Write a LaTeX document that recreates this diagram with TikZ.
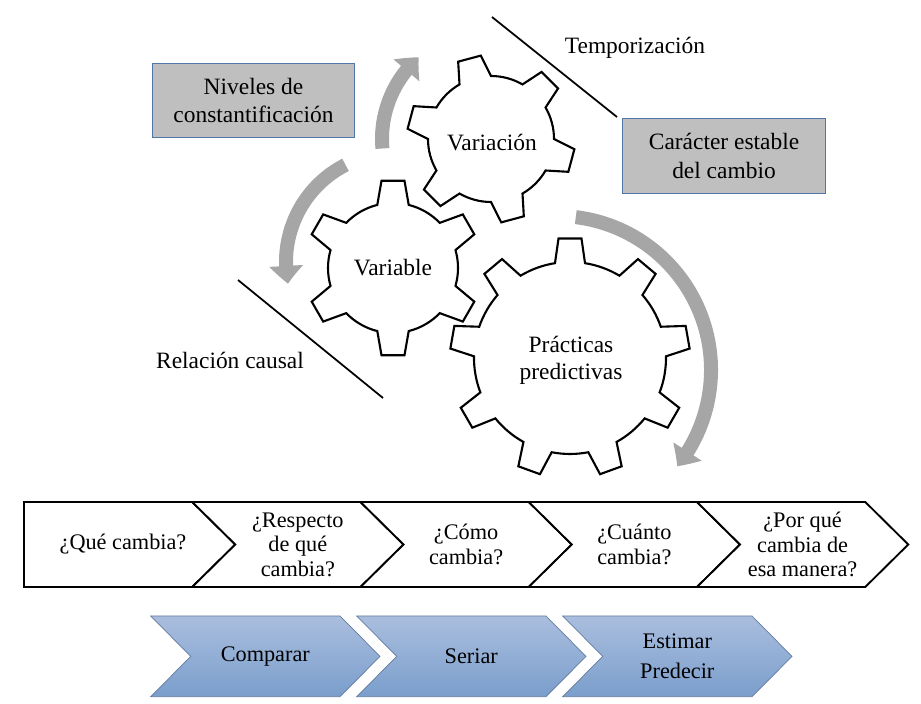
\documentclass[tikz,border=0pt]{standalone}
\usepackage{fontspec}
\setmainfont{Liberation Serif}
\usetikzlibrary{arrows.meta,bending}
\definecolor{boxgray}{RGB}{191,191,191}
\definecolor{boxblue}{RGB}{79,119,170}
\definecolor{arrowgray}{RGB}{166,166,166}
\definecolor{acttop}{RGB}{170,190,222}
\definecolor{actbot}{RGB}{122,158,204}
\definecolor{actborder}{RGB}{100,124,160}

\begin{document}
\begin{tikzpicture}[x=0.03cm, y=0.03cm,
  every node/.style={font=\fontsize{20}{24}\selectfont, align=center, inner sep=1pt},
  gear/.style={line width=1.8pt, line join=miter, fill=white},
  cyclearrow/.style={line width=0.42cm, draw=arrowgray, -{Triangle[width=0.98cm, length=0.54cm, bend]}},
  sepline/.style={line width=1.5pt},
  graybox/.style={draw=boxblue, line width=1pt, fill=boxgray, minimum width=6.08cm, minimum height=2.24cm},
  qbox/.style={draw, line width=1.6pt, line join=miter, fill=white},
  qtext/.style={font=\fontsize{19}{21}\selectfont},
  actbox/.style={draw=actborder, line width=0.6pt, top color=acttop, bottom color=actbot}]
\useasboundingbox (0,0) rectangle (921,704);

% gears: centre, outer/inner radius, teeth, first tooth, half widths
\foreach \gx/\gy/\rout/\rin/\nt/\off/\aout/\ain in {393/436/88/65/6/90/7.5/14, 491/565/84/63/6/105/8/15, 570/346/120/96/9/90/5.5/9}
{
  \pgfmathsetmacro{\gstep}{360/\nt}
  \draw[gear] ({\gx+\rin*cos(\off-\ain)},{\gy+\rin*sin(\off-\ain)})
    \foreach \kk [evaluate=\kk as \ang using \off+(\kk-1)*\gstep] in {1,...,\nt} {
      -- ({\gx+\rout*cos(\ang-\aout)},{\gy+\rout*sin(\ang-\aout)})
      -- ({\gx+\rout*cos(\ang+\aout)},{\gy+\rout*sin(\ang+\aout)})
      -- ({\gx+\rin*cos(\ang+\ain)},{\gy+\rin*sin(\ang+\ain)})
      arc[start angle=\ang+\ain, end angle=\ang+\gstep-\ain, radius=\rin]
    } -- cycle;
}
\node (variable) at (393,436) {Variable};
\node (variacion) at (492,561) {Variación};
\node[font=\fontsize{20}{23}\selectfont] (practicas) at (571,344) {Prácticas\\predictivas};

% turning arrows
\coordinate (cvar) at (491,565);
\coordinate (cvbl) at (395,442);
\coordinate (cpra) at (557,334);
\draw[cyclearrow] ([shift={(185:109)}]cvar) arc[start angle=185, end angle=131.5, radius=109];
\draw[cyclearrow] ([shift={(117:109)}]cvbl) arc[start angle=117, end angle=191.5, radius=109];
\draw[cyclearrow] ([shift={(83:154)}]cpra) arc[start angle=83, end angle=-38.7, radius=154];

% labels and boxes
\node[graybox] (niveles) at (253.5,603.5) {Niveles de\\constantificación};
\node[graybox] (caracter) at (724,548) {Carácter estable\\del cambio};
\node (tempo) at (635,656) {Temporización};
\node (causal) at (230,344) {Relación causal};
\coordinate (t1) at (492,687);
\coordinate (t2) at (617,587);
\coordinate (c1) at (238,424);
\coordinate (c2) at (383,306);
\draw[sepline] (t1) -- (t2);
\draw[sepline] (c1) -- (c2);

% questions
\foreach \i/\tx in {0/{¿Qué cambia?}, 1/{¿Respecto\\de qué\\cambia?}, 2/{¿Cómo\\cambia?}, 3/{¿Cuánto\\cambia?}, 4/{¿Por qué\\cambia de\\esa manera?}}
{
  \pgfmathsetmacro{\xl}{24+168.25*\i}
  \pgfmathsetmacro{\xr}{\xl+168.25}
  \pgfmathsetmacro{\dn}{\i==0 ? 0 : 43}
  \draw[qbox] (\xl,202) -- (\xr,202) -- (\xr+43,159.5) -- (\xr,117) -- (\xl,117) -- (\xl+\dn,159.5) -- cycle;
  \node[qtext] (q\i) at ({\i==0 ? 123 : \xl+105.6},159.5) {\tx};
}

% practices
\foreach \i/\tx in {0/Comparar, 1/Seriar, 2/{Estimar\\Predecir}}
{
  \pgfmathsetmacro{\xl}{150.7+206*\i}
  \pgfmathsetmacro{\xr}{\xl+189.3}
  \draw[actbox] (\xl,88) -- (\xr,88) -- (\xr+40,47.6) -- (\xr,7.3) -- (\xl,7.3) -- (\xl+40,47.6) -- cycle;
  \node[font=\fontsize{19}{25.5}\selectfont] (a\i) at (\xl+114.6,47.6) {\tx};
}
\end{tikzpicture}
\end{document}
